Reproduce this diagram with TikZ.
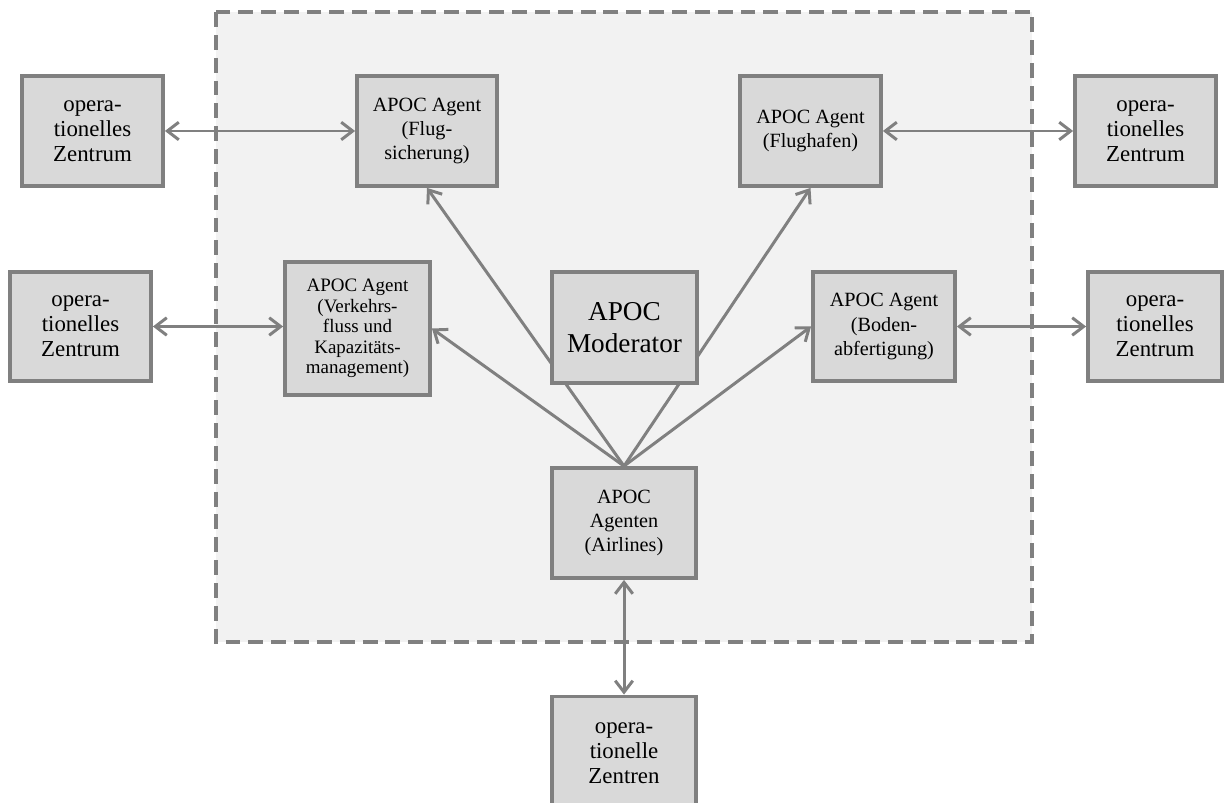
\documentclass[tikz,border=0pt]{standalone}
\usepackage{fontspec}
\setmainfont{Liberation Serif}
\usepackage{xcolor}
\usepackage{tikz}
\usetikzlibrary{positioning,calc,arrows.meta}
\definecolor{framegray}{HTML}{808080}
\definecolor{boxfill}{HTML}{D9D9D9}
\definecolor{areafill}{HTML}{F2F2F2}

\begin{document}
\begin{tikzpicture}[x=0.02cm, y=-0.02cm,
        box/.style={rectangle, draw=framegray, line width=2.2pt, fill=boxfill, align=center, inner sep=2pt},
        opbox/.style={box, minimum width=2.8cm, minimum height=2.2cm, font=\fontsize{13}{14.2}\selectfont},
        agent/.style={box, minimum width=2.8cm, minimum height=2.2cm, font=\fontsize{11.5}{13.8}\selectfont},
        moderator/.style={box, minimum width=2.9cm, minimum height=2.22cm, font=\fontsize{15.5}{18.5}\selectfont},
        area/.style={draw=framegray, line width=1.8pt, dash pattern=on 8.5pt off 4.5pt, fill=areafill},
        tip/.tip={Straight Barb[length=6.5pt, width=10pt]},
        link/.style={draw=framegray, line width=1.7pt, -tip},
        both/.style={link, tip-tip},
      ]
      \clip (0,0) rectangle (1224,803);
      \fill [white] (0,0) rectangle (1224,803);
      \path [area] (216,12) rectangle (1032,642);
      % operationelle Zentren
      \node [opbox, minimum width=2.82cm] (opTL) at (92.5,131) {opera-\\tionelles\\Zentrum};
      \node [opbox, minimum width=2.82cm] (opTR) at (1145.5,131) {opera-\\tionelles\\Zentrum};
      \node [opbox, minimum width=2.82cm, minimum height=2.18cm] (opML) at (80.5,326.5) {opera-\\tionelles\\Zentrum};
      \node [opbox, minimum width=2.68cm, minimum height=2.18cm] (opMR) at (1155,326.5) {opera-\\tionelles\\Zentrum};
      \node [opbox, minimum width=2.88cm, minimum height=2.26cm] (opB) at (624,753) {opera-\\tionelle\\Zentren};
      % APOC agents
      \node [agent] (flug) at (427,131) {APOC Agent\\(Flug-\\sicherung)};
      \node [agent, minimum width=2.82cm] (hafen) at (810.5,131) {APOC Agent\\(Flughafen)};
      \node [agent, minimum width=2.9cm, minimum height=2.66cm, font=\fontsize{10.8}{11.6}\selectfont] (verk) at (357.5,328.5) {APOC Agent\\(Verkehrs-\\fluss und\\Kapazitäts-\\management)};
      \node [agent, minimum width=2.84cm, minimum height=2.18cm] (boden) at (884,326.5) {APOC Agent\\(Boden-\\abfertigung)};
      \node [agent, minimum width=2.88cm] (air) at (624,523) {APOC\\Agenten\\(Airlines)};
      % connectors from the airlines
      \draw [link] (air.north) -- (flug.south);
      \draw [link] (air.north) -- (hafen.south);
      \draw [link] (air.north) -- (verk.east);
      \draw [link] (air.north) -- (boden.west);
      \node [moderator] (mod) at (624.5,327.5) {APOC\\Moderator};
      % links to the operational centres
      \draw [both] (opTL.east) -- (flug.west);
      \draw [both] (hafen.east) -- (opTR.west);
      \draw [both] (opML.east) -- (opML.east -| verk.west);
      \draw [both] (boden.east) -- (opMR.west);
      \draw [both] (air.south) -- (opB.north);
    \end{tikzpicture}
\end{document}
